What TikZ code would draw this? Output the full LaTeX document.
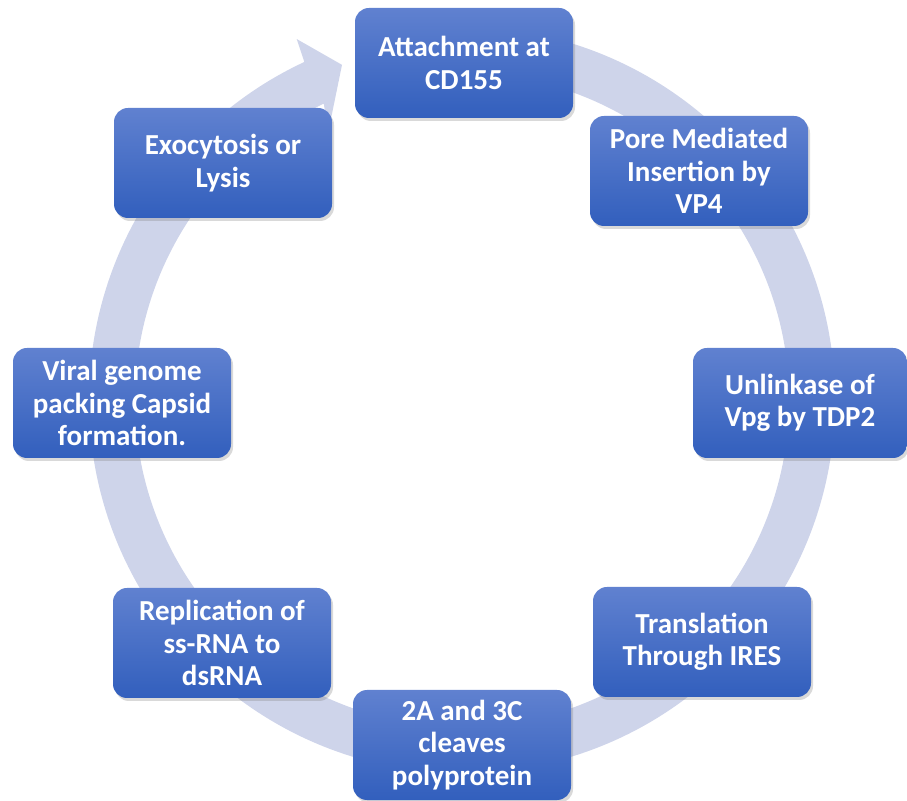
\documentclass[tikz,border=0pt]{standalone}
\usepackage{fontspec}
\setmainfont{Carlito}
\usetikzlibrary{shadows}
\definecolor{ringc}{RGB}{206,212,234}
\definecolor{boxtop}{RGB}{96,129,208}
\definecolor{boxbot}{RGB}{50,95,189}
\begin{document}
\begin{tikzpicture}[x=1pt,y=1pt,
  stepbox/.style={rounded corners=14pt, minimum width=218pt, minimum height=110pt,
    top color=boxtop, bottom color=boxbot, draw=none, text=white,
    font=\bfseries\fontsize{29}{32.5}\selectfont, align=center, inner sep=0pt,
    drop shadow={opacity=0.3, shadow xshift=2pt, shadow yshift=-3pt}}]
\useasboundingbox (0,0) rectangle (907,800);
% circular arrow
\fill[ringc, shift={(462,400)}]
  (95:373) arc[start angle=95, end angle=-245, radius=373]
  -- (-245.4:397) -- (-250.3:356) -- (-243.4:299) -- (-245:327)
  arc[start angle=-245, end angle=95, radius=327] -- cycle;
% steps
\node[stepbox] (attach) at (464,737) {Attachment at\\CD155};
\node[stepbox] (pore) at (699,629) {Pore Mediated\\Insertion by\\VP4};
\node[stepbox, minimum width=214pt] (unlink) at (800,397) {Unlinkase of\\Vpg by TDP2};
\node[stepbox] (transl) at (702,158) {Translation\\Through IRES};
\node[stepbox] (cleave) at (462,55) {2A and 3C\\cleaves\\polyprotein};
\node[stepbox] (repl) at (222,157) {Replication of\\ss-RNA to\\dsRNA};
\node[stepbox] (viral) at (122,397) {Viral genome\\packing Capsid\\formation.};
\node[stepbox] (exo) at (223,637) {Exocytosis or\\Lysis};
\end{tikzpicture}
\end{document}
